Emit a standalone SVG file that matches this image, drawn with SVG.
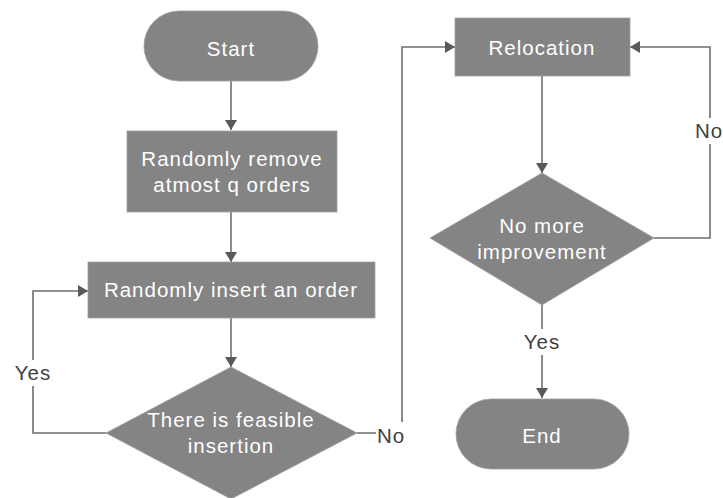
<svg xmlns="http://www.w3.org/2000/svg" width="723" height="498" viewBox="0 0 723 498">
  <defs>
    <marker id="arrow" viewBox="0 0 10 12" refX="10" refY="6" markerWidth="10" markerHeight="12" markerUnits="userSpaceOnUse" orient="auto">
      <path d="M0,0 L10,6 L0,12 z" fill="#595959"/>
    </marker>
  </defs>
  <style>
    .shape { fill: #848484; stroke: #a0a0a0; stroke-width: 0.8; }
    .ntext { fill: #ffffff; font-family: "Liberation Sans", Arial, sans-serif; font-size: 20.5px; letter-spacing: 1px; text-anchor: middle; }
    .edge { fill: none; stroke: #6e6e6e; stroke-width: 1.6; }
    .lbl { fill: #404040; font-family: "Liberation Sans", Arial, sans-serif; font-size: 20.5px; letter-spacing: 1px; text-anchor: middle; }
    .lblbg { fill: #ffffff; }
  </style>
  <rect width="723" height="498" fill="#ffffff"/>

  <g id="connectors">
    <path class="edge" d="M231,81 V130" marker-end="url(#arrow)"/>
    <path class="edge" d="M231,212 V262" marker-end="url(#arrow)"/>
    <path class="edge" d="M231,318 V367" marker-end="url(#arrow)"/>
    <path class="edge" d="M106,433 H33 V291 H88" marker-end="url(#arrow)"/>
    <path class="edge" d="M357,433 H402 V47 H455" marker-end="url(#arrow)"/>
    <path class="edge" d="M542,76 V173" marker-end="url(#arrow)"/>
    <path class="edge" d="M654,238 H710 V47 H630" marker-end="url(#arrow)"/>
    <path class="edge" d="M542,305 V398" marker-end="url(#arrow)"/>
    <rect class="lblbg" x="11" y="360" width="44" height="26"/>
    <text class="lbl" x="33" y="380">Yes</text>
    <rect class="lblbg" x="376" y="422" width="30" height="26"/>
    <text class="lbl" x="391" y="443">No</text>
    <rect class="lblbg" x="693" y="118" width="30" height="26"/>
    <text class="lbl" x="709" y="138">No</text>
    <rect class="lblbg" x="518" y="329" width="48" height="26"/>
    <text class="lbl" x="542" y="349">Yes</text>
  </g>

  <g id="start">
    <rect class="shape" x="144" y="11" width="174" height="70" rx="35" ry="35"/>
    <text class="ntext" x="231" y="56">Start</text>
  </g>
  <g id="remove">
    <rect class="shape" x="127" y="131" width="210" height="81"/>
    <text class="ntext" x="232" y="166">Randomly remove</text>
    <text class="ntext" x="232" y="192">atmost q orders</text>
  </g>
  <g id="insert">
    <rect class="shape" x="88" y="262" width="287" height="56"/>
    <text class="ntext" x="231" y="297">Randomly insert an order</text>
  </g>
  <g id="feasible">
    <polygon class="shape" points="231,367 357,433 231,499 106,433"/>
    <text class="ntext" x="231" y="427">There is feasible</text>
    <text class="ntext" x="231" y="453">insertion</text>
  </g>
  <g id="relocation">
    <rect class="shape" x="455" y="18" width="175" height="58"/>
    <text class="ntext" x="542" y="55">Relocation</text>
  </g>
  <g id="improvement">
    <polygon class="shape" points="542,173 654,238 542,305 430,238"/>
    <text class="ntext" x="542" y="233">No more</text>
    <text class="ntext" x="542" y="259">improvement</text>
  </g>
  <g id="end">
    <rect class="shape" x="456" y="399" width="173" height="70" rx="35" ry="35"/>
    <text class="ntext" x="542" y="443">End</text>
  </g>
</svg>
